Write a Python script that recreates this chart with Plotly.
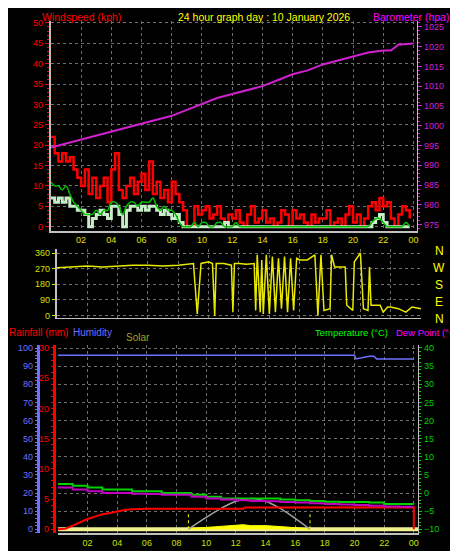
import numpy as np
import plotly.graph_objects as go

# ---------- data ----------
gust = [22,18,16,18, 16,17,14,12, 10,14,8,12, 7,10,12,6, 14,18,9,7, 10,12,8,11,
        13,9,16,8, 11,7,9,6, 11,8,6,4, 0,0,5,3, 4,5,2,3, 5,2,1,3,
        2,4,1,0, 3,5,1,2, 4,1,2,0, 1,4,3,0, 4,2,3,1, 0,3,1,2,
        2,4,0,1, 2,0,3,5, 1,3,0,2, 5,6,4,7, 5,6,2,0, 3,5,4,2]
avgwind = [7,6,7,6, 7,5,5,4, 4,3,0,2, 3,4,3,2, 5,5,3,0, 4,5,5,4,
           5,4,5,5, 4,3,4,3, 2,3,1,0, 0,0,0,0, 0,0,0,0, 0,0,1,0,
           0,0,0,0, 0,0,0,0, 0,0,0,0, 0,0,0,0, 0,0,0,0, 0,0,0,0,
           0,0,0,0, 0,0,0,0, 0,0,0,0, 0,1,2,3, 1,0,0,0, 0,0,0,0]
wind10 = [11,10,10,9, 10,8,6,5, 4,3,3,3, 4,3,4,4, 6,6,5,3, 5,6,6,5,
          6,6,6,7, 5,4,5,4, 4,3,1,0, 0,0,1,0, 1,1,0,0, 1,1,0,0,
          0,1,0,0, 0,0,0,0, 0,0,0,0, 0,0,0,0, 0,0,0,0, 0,0,0,0,
          0,0,0,0, 0,0,0,0, 0,0,0,0, 0,1,2,2, 1,0,0,0, 0,0,1,0]
wind_t = list(np.arange(96) * 0.25)

baro_t = [0,1,2,3,4,5,6,7,8,9,10,11,12,13,14,15,16,17,18,19,20,21,22,22.5,23,24]
baro = [994.5,995.5,996.5,997.5,998.5,999.5,1000.5,1001.5,1002.5,1004,1005.5,1007,1008,
        1009,1010,1011.5,1013,1014,1015.5,1016.5,1017.5,1018.5,1019,1019,1020.5,1020.8]

dir_t = [0,1,2,3,4,5,6,7,8,9,9.25,9.5,10,10.25,10.4,10.5,11,11.5,11.6,11.7,12,12.5,13,13.1,
         13.2,13.4,13.5,13.6,13.8,14,14.2,14.4,14.6,14.8,15,15.2,15.4,15.6,15.8,16,16.5,16.8,
         17,17.2,17.4,17.6,18,18.1,18.3,19,19.1,19.5,19.6,20,20.2,20.5,20.6,20.7,21.3,21.5,
         21.8,22,22.5,23,23.4,24]
wdir = [275,280,285,280,285,290,290,285,290,300,10,300,310,300,0,300,300,290,20,300,300,295,300,30,
        350,20,320,10,350,10,340,20,330,40,340,20,330,30,330,320,320,340,
        350,0,350,30,40,350,280,280,60,30,310,360,40,30,280,60,60,20,
        50,50,40,20,50,40]

hours = [0,1,2,3,4,5,6,7,8,9,10,11,12,13,14,15,16,17,18,19,20,21,22,23,24]
temp = [2.5,2,1.5,1,1,0.5,0.5,0,0,-0.5,-1,-1.5,-1.5,-1.5,-1.5,-1.8,-2,-2.2,-2.4,-2.5,-2.5,-2.6,-3,-3,-3]
dew = [1.5,1,0.5,0,0,-0.2,-0.3,-0.5,-0.5,-1,-1.5,-1.8,-2,-2.2,-2.3,-2.5,-2.6,-2.8,-3,-3.2,-3.3,-3.5,-3.7,-3.8,-3.8]
hum_t = [0,20,20.1,21,21.3,21.5,24]
hum = [96,96,94,95.5,95.5,94,94]
rain_t = [0,0.5,1,1.5,2,2.5,3,3.5,4,4.5,5,6,12.5,12.6,24,24]
rain = [0,0.1,0.6,1.2,1.7,2.1,2.5,2.7,3.0,3.2,3.3,3.4,3.4,3.6,3.65,0]
solmax_t = [8.8,10,11,12,13,14,15,16,17]
solmax = [0,6.5,11.5,15.5,17,15.5,11.5,6,0]
sol_t = [8.8,9,10,11,11.5,12,12.5,13,13.5,14,15,16,16.5,17]
sol = [0,0.5,1,1.5,2,2,2.5,2,2,2,1.5,1,0.5,0]
sun_t = [8.8,17]

tickv = [2,4,6,8,10,12,14,16,18,20,22,24]
tickt = ["02","04","06","08","10","12","14","16","18","20","22","00"]

W, H = 458, 551
def px(x): return x / W
def py(y): return 1 - y / H

fig = go.Figure()
fig.add_trace(go.Scatter(x=baro_t, y=baro, yaxis="y2", xaxis="x", mode="lines",
                         line=dict(color="#d020d0", width=2)))
fig.add_trace(go.Scatter(x=wind_t, y=gust, xaxis="x", yaxis="y", mode="lines",
                         line=dict(color="#ff0000", width=2.5, shape="hv")))
fig.add_trace(go.Scatter(x=wind_t, y=avgwind, xaxis="x", yaxis="y", mode="lines",
                         line=dict(color="#c8ecc8", width=3, shape="hv")))
fig.add_trace(go.Scatter(x=wind_t, y=wind10, xaxis="x", yaxis="y", mode="lines",
                         line=dict(color="#00c000", width=1.5, shape="spline")))
fig.add_trace(go.Scatter(x=dir_t, y=wdir, xaxis="x2", yaxis="y3", mode="lines",
                         line=dict(color="#e8e800", width=1.5)))
fig.add_trace(go.Scatter(x=[0, 24.3], y=[0, 0], xaxis="x3", yaxis="y4", mode="lines",
                         line=dict(color="#f0f090", width=4)))
fig.add_trace(go.Scatter(x=sol_t, y=sol, xaxis="x3", yaxis="y4", mode="lines", fill="tozeroy",
                         fillcolor="#ffff00", line=dict(color="#ffff00", width=1)))
for t in sun_t:
    fig.add_trace(go.Scatter(x=[t, t], y=[0, 8.5], xaxis="x3", yaxis="y4", mode="lines",
                             line=dict(color="#ffff00", width=1, dash="dot")))
fig.add_trace(go.Scatter(x=solmax_t, y=solmax, xaxis="x3", yaxis="y4", mode="lines",
                         line=dict(color="#a0a0a0", width=1.5, shape="spline")))
fig.add_trace(go.Scatter(x=hum_t, y=hum, xaxis="x3", yaxis="y4", mode="lines",
                         line=dict(color="#7070ff", width=1.5)))
fig.add_trace(go.Scatter(x=hours, y=temp, xaxis="x3", yaxis="y6", mode="lines",
                         line=dict(color="#00d000", width=2, shape="hv")))
fig.add_trace(go.Scatter(x=hours, y=dew, xaxis="x3", yaxis="y6", mode="lines",
                         line=dict(color="#c000c0", width=2, shape="hv")))
fig.add_trace(go.Scatter(x=rain_t, y=rain, xaxis="x3", yaxis="y5", mode="lines",
                         line=dict(color="#ff0000", width=2)))

grid = dict(showgrid=True, gridcolor="#707070", griddash="dot", gridwidth=1, zeroline=False)
f = dict(family="Liberation Sans, Arial", size=9)

fig.update_layout(
    width=W, height=H, margin=dict(l=0, r=0, t=0, b=0),
    paper_bgcolor="black", plot_bgcolor="black", showlegend=False,
    xaxis=dict(domain=[px(43), px(410)], range=[0, 24.24], tickvals=tickv, ticktext=tickt,
               tickfont=dict(f, color="#e0e000"), anchor="y", showline=True,
               linecolor="#c0c0c0", linewidth=2, ticks="", **grid),
    yaxis=dict(domain=[py(222), py(10)], range=[-0.97, 50.49], dtick=5,
               tickfont=dict(f, color="#ff0000"), showline=True, linecolor="#c0c0c0",
               linewidth=2, ticks="outside", tickcolor="#ff0000", ticklen=4,
               minor=dict(dtick=1, ticks="outside", ticklen=2, tickcolor="#ff0000"),
               anchor="x", **grid),
    yaxis2=dict(range=[973.5, 1026.5], dtick=5, overlaying="y", side="right", anchor="x",
                tickfont=dict(f, color="#d020d0"), showgrid=False, zeroline=False,
                showline=True, linecolor="#c0c0c0", linewidth=1, ticks="outside",
                tickcolor="#d020d0", ticklen=4,
                minor=dict(dtick=1, ticks="outside", ticklen=2, tickcolor="#d020d0")),
    xaxis2=dict(domain=[px(49), px(414)], range=[0, 24.0], tickvals=tickv, showticklabels=False,
                anchor="y3", showline=True, linecolor="#c0c0c0", linewidth=1, **grid),
    yaxis3=dict(domain=[py(310), py(241)], range=[-11.4, 381], tickvals=[0, 90, 180, 270, 360],
                tickfont=dict(f, color="#d0e000"), anchor="x2", showline=True,
                linecolor="#c0c0c0", linewidth=2, ticks="outside", tickcolor="#d0e000",
                ticklen=3, **grid),
    xaxis3=dict(domain=[px(50), px(411)], range=[0, 24.29], tickvals=tickv, ticktext=tickt,
                tickfont=dict(f, color="#c8e000"), anchor="y4", showline=True,
                linecolor="#c0c0c0", linewidth=2, ticks="", **grid),
    yaxis4=dict(domain=[py(528), py(338)], range=[-2.2, 101.5], dtick=10,
                tickfont=dict(f, color="#7070ff"), anchor="free", position=px(30),
                showline=True, linecolor="#7070ff", linewidth=3, ticks="outside",
                tickcolor="#7070ff", ticklen=2,
                minor=dict(dtick=2, ticks="outside", ticklen=2, tickcolor="#7070ff"), **grid),
    yaxis5=dict(range=[-0.65, 30.44], dtick=5, overlaying="y4", anchor="free", position=px(46),
                tickfont=dict(f, color="#ff0000"), showline=True, linecolor="#ff0000",
                linewidth=3, ticks="outside", tickcolor="#ff0000", ticklen=2,
                minor=dict(dtick=1, ticks="outside", ticklen=2, tickcolor="#ff0000"),
                showgrid=False, zeroline=False),
    yaxis6=dict(range=[-11.1, 40.74], dtick=5, overlaying="y4", side="right", anchor="x3",
                tickfont=dict(f, color="#00d000"), showline=True, linecolor="#c0c0c0",
                linewidth=1, ticks="outside", tickcolor="#00d000", ticklen=3,
                minor=dict(dtick=1, ticks="outside", ticklen=2, tickcolor="#00d000"),
                showgrid=False, zeroline=False),
)

tf = dict(family="Liberation Sans, Arial", size=10)
def ann(x, y, text, color, anchor="left", size=10):
    fig.add_annotation(x=px(x), y=py(y), xref="paper", yref="paper", text=text, showarrow=False,
                       xanchor=anchor, yanchor="middle", borderpad=0,
                       font=dict(tf, color=color, size=size))

ann(33, 6, "Windspeed (kph)", "#ff0000", size=10.5)
ann(169, 6, "24 hour graph day : 10 January 2026", "#ffff00", size=10.5)
ann(365, 6, "Barometer (hpa)", "#ff00ff", size=10.5)
ann(0, 325, "Rainfall (mm)", "#ff0000")
ann(64, 325, "Humidity", "#7070ff")
ann(117, 330, "Solar", "#a0a020")
ann(307, 325, "Temperature (°C)", "#00ff00", size=9.5)
ann(388, 325, "Dew Point (°C)", "#ff00ff", size=9.5)
for lab, yy in zip(["N", "W", "S", "E", "N"], [243, 260, 277, 294, 311]):
    ann(432, yy, lab, "#ffff00", "center", 12)

fig.write_html("out.html")
